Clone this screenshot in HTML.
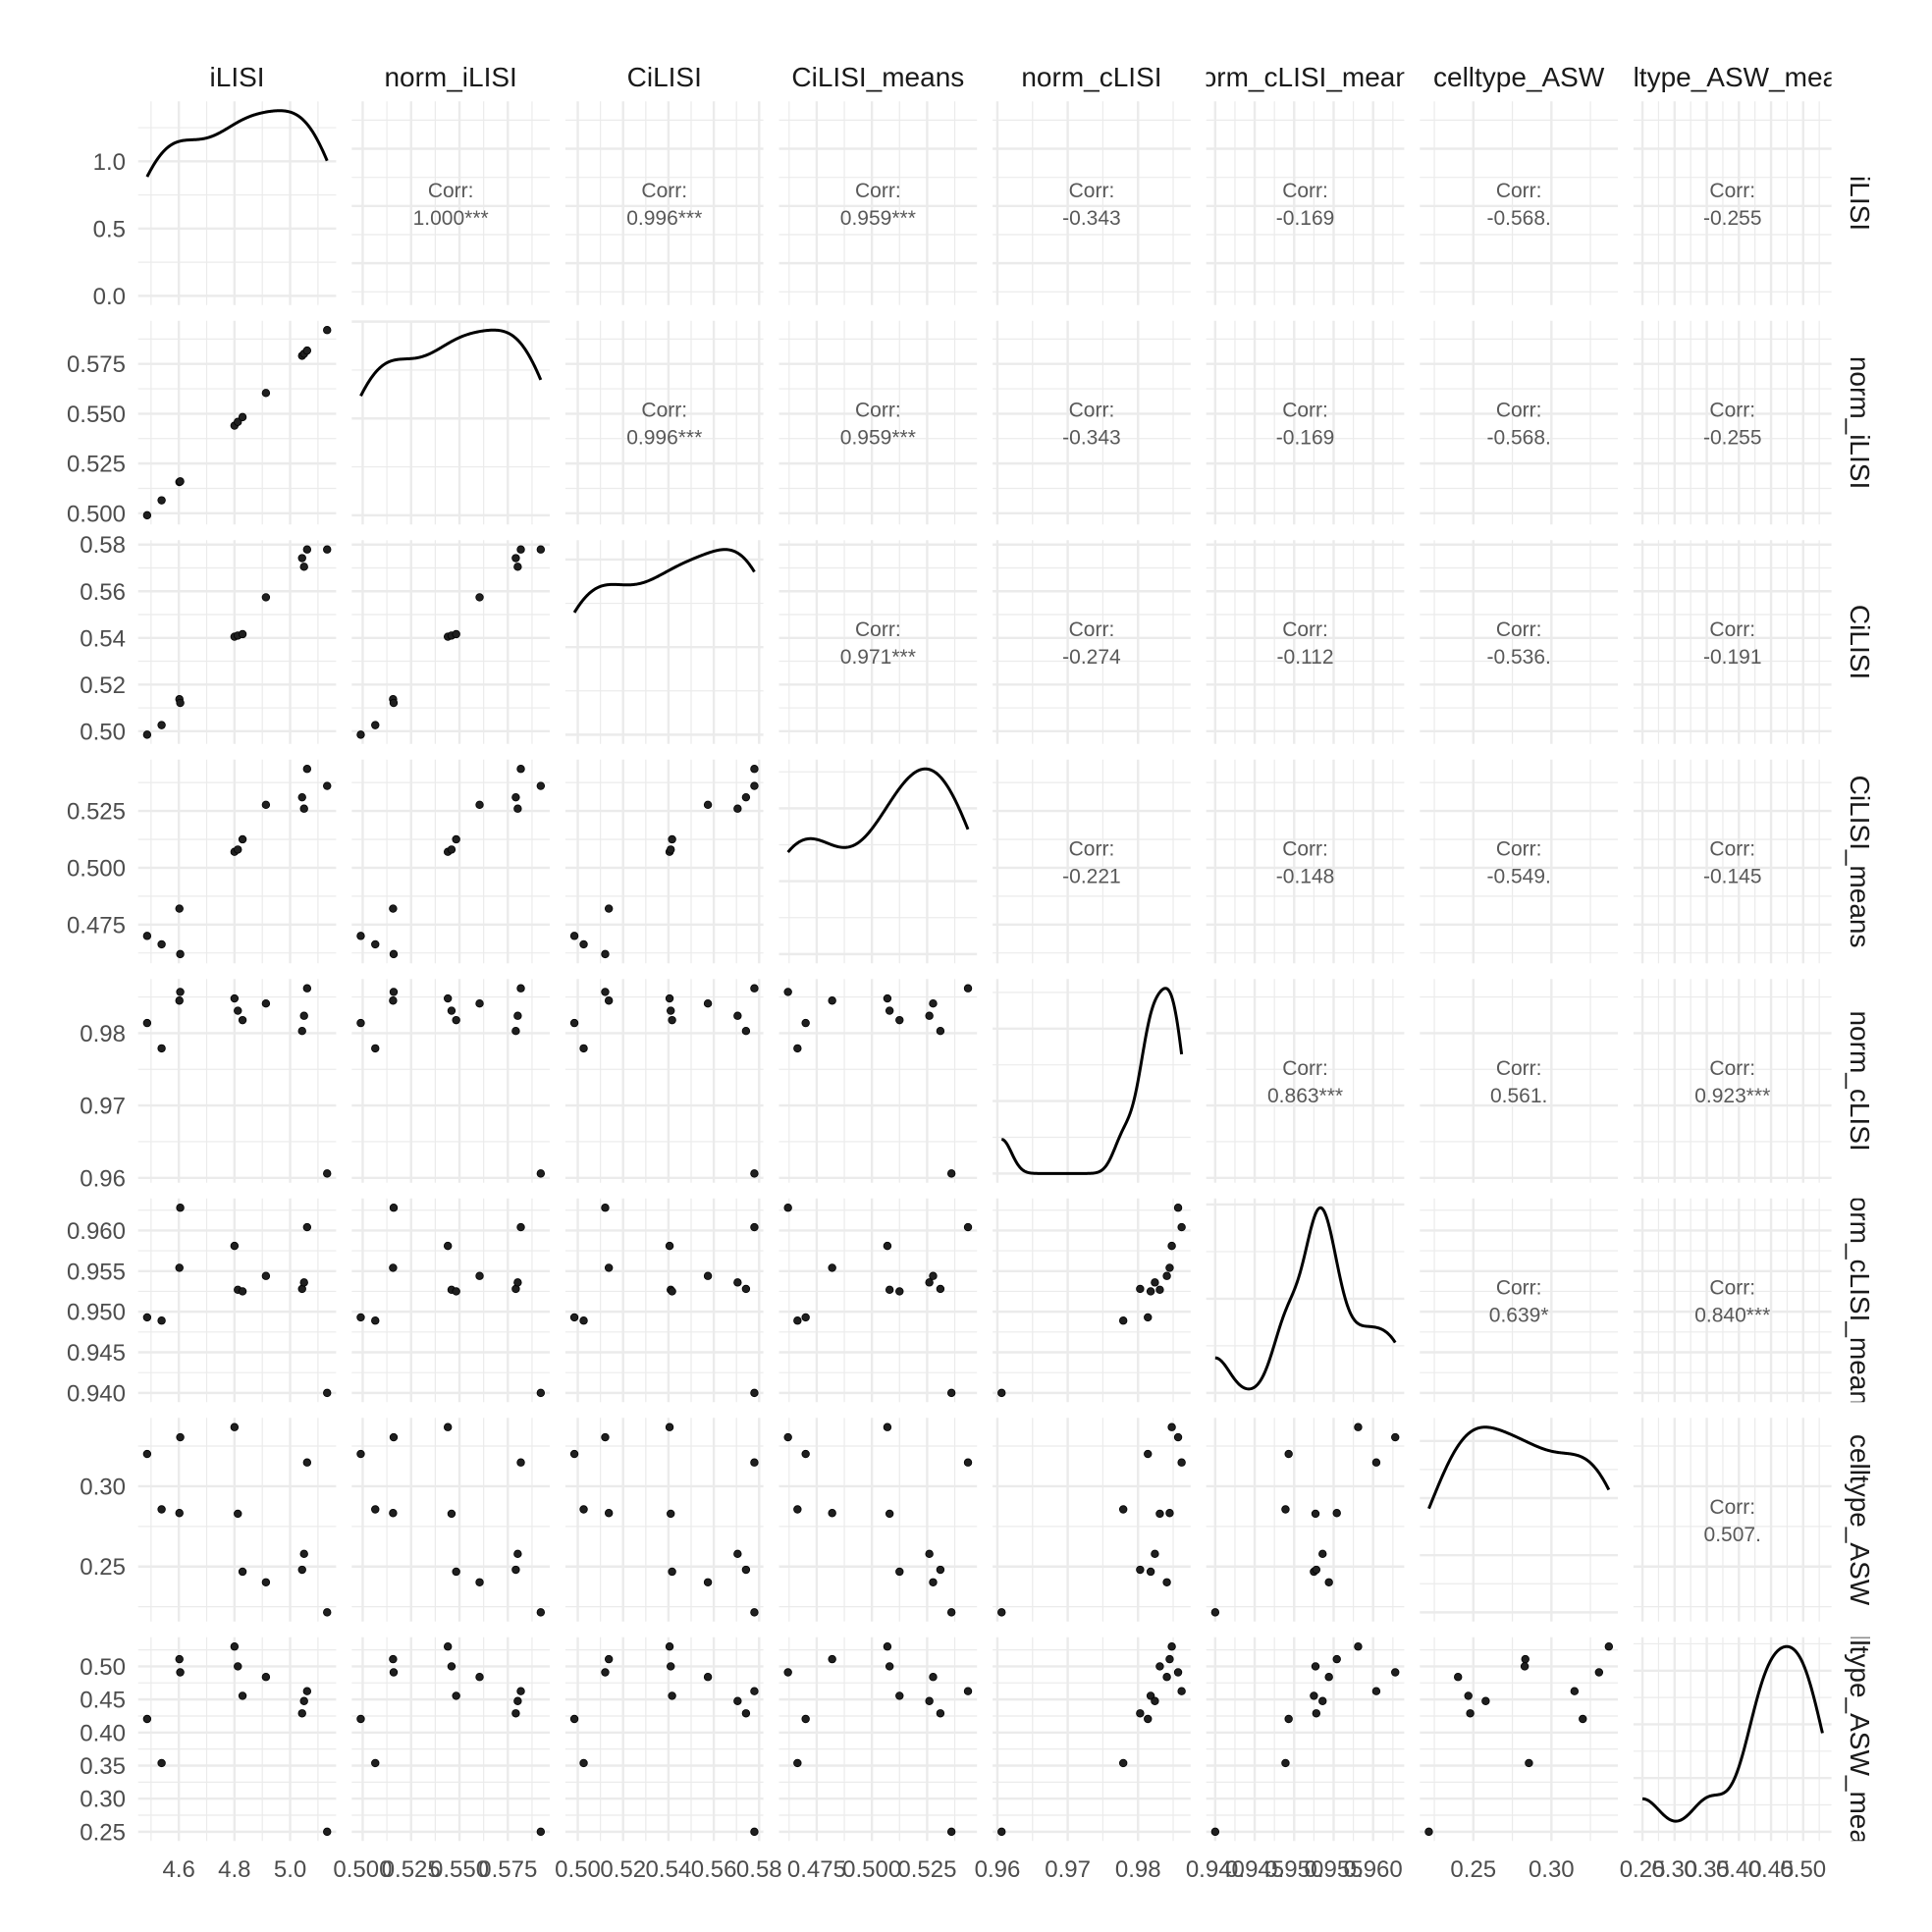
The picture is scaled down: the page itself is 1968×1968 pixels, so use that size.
<!DOCTYPE html>
<html><head><meta charset="utf-8"><style>
html,body{margin:0;padding:0;background:#fff;}
svg{display:block;}
</style></head><body>
<svg id="chart" width="1968" height="1968" viewBox="0 0 1968 1968" xmlns="http://www.w3.org/2000/svg" font-family="'Liberation Sans', sans-serif"></svg>
<script>
// ---- data (12 observations) ----
const varNames = ["iLISI","norm_iLISI","CiLISI","CiLISI_means","norm_cLISI","norm_cLISI_means","celltype_ASW","celltype_ASW_means"];
const iLISI = [4.486,4.538,4.602,4.605,4.800,4.812,4.829,4.913,5.043,5.050,5.061,5.133];
const normILISI = [0.499,0.5065,0.5157,0.516,0.544,0.5459,0.5483,0.5604,0.5791,0.5801,0.5817,0.592];
const CiLISI = [0.4985,0.5026,0.5137,0.5121,0.5405,0.541,0.5416,0.5574,0.5742,0.5705,0.5779,0.5779];
const CiLISImeans = [0.470,0.4663,0.482,0.462,0.507,0.508,0.5125,0.5277,0.531,0.526,0.5435,0.536];
const normCLISI = [0.9814,0.9779,0.9845,0.9857,0.9848,0.9831,0.9818,0.9841,0.9803,0.9824,0.9862,0.9606];
const normCLISImeans = [0.9493,0.9489,0.9554,0.9628,0.9581,0.9527,0.9525,0.9544,0.9528,0.9536,0.9604,0.940];
const celltypeASW = [0.3201,0.2856,0.2833,0.3305,0.3368,0.2829,0.2468,0.2402,0.248,0.2579,0.3148,0.2215];
const celltypeASWmeans = [0.4205,0.3538,0.5109,0.491,0.530,0.500,0.4555,0.484,0.429,0.4476,0.4625,0.25];
const allVars = [iLISI,normILISI,CiLISI,CiLISImeans,normCLISI,normCLISImeans,celltypeASW,celltypeASWmeans];

// tick labels per variable
const ticksILISI = ["4.6","4.8","5.0"];
const ticksNormILISI = ["0.500","0.525","0.550","0.575"];
const ticksCiLISI = ["0.50","0.52","0.54","0.56","0.58"];
const ticksCiLISImeans = ["0.475","0.500","0.525"];
const ticksNormCLISI = ["0.96","0.97","0.98"];
const ticksNormCLISImeans = ["0.940","0.945","0.950","0.955","0.960"];
const ticksASW = ["0.25","0.30"];
const ticksASWmeans = ["0.25","0.30","0.35","0.40","0.45","0.50"];
const allTicks = [ticksILISI,ticksNormILISI,ticksCiLISI,ticksCiLISImeans,ticksNormCLISI,ticksNormCLISImeans,ticksASW,ticksASWmeans];
const densityTicks = ["0.0","0.5","1.0"];

// correlation labels (upper triangle, row by row)
const corrRow1 = ["1.000***","0.996***","0.959***","-0.343","-0.169","-0.568.","-0.255"];
const corrRow2 = ["0.996***","0.959***","-0.343","-0.169","-0.568.","-0.255"];
const corrRow3 = ["0.971***","-0.274","-0.112","-0.536.","-0.191"];
const corrRow4 = ["-0.221","-0.148","-0.549.","-0.145"];
const corrRow5 = ["0.863***","0.561.","0.923***"];
const corrRow6 = ["0.639*","0.840***"];
const corrRow7 = ["0.507."];
const corrRows = [corrRow1,corrRow2,corrRow3,corrRow4,corrRow5,corrRow6,corrRow7];

// ---- layout ----
const NS = "http://www.w3.org/2000/svg";
const svg = document.getElementById('chart');
const L0 = 140.7, PX = 217.6, PW = 201.7;
const T0 = 103.3, PY = 223.5, PH = 207.5;
const N = 8;
function mk(tag, attrs, parent){ const e=document.createElementNS(NS,tag); for(const k in attrs) e.setAttribute(k,attrs[k]); (parent||svg).appendChild(e); return e; }

function limits(arr){ const mn=Math.min(...arr), mx=Math.max(...arr), r=mx-mn; return [mn-0.05*r, mx+0.05*r]; }
const lims = allVars.map(limits);
function xScale(c, v){ const [lo,hi]=lims[c]; return L0+c*PX+(v-lo)/(hi-lo)*PW; }
function yScale(r, v){ const [lo,hi]=lims[r]; return T0+r*PY+PH-(v-lo)/(hi-lo)*PH; }

function minorBreaks(major, lo, hi){
  const out=[]; if(major.length<2) return out;
  const step=major[1]-major[0];
  const ext=[major[0]-step, ...major, major[major.length-1]+step];
  for(let i=0;i<ext.length-1;i++){ const m=(ext[i]+ext[i+1])/2; if(m>=lo&&m<=hi) out.push(m); }
  return out;
}
function niceTicks(lo, hi){
  const span=hi-lo, raw=span/4, p=Math.pow(10,Math.floor(Math.log10(raw)));
  let step=p; for(const m of [1,2,2.5,5,10]){ if(m*p>=raw){ step=m*p; break; } }
  const out=[]; for(let v=Math.ceil(lo/step)*step; v<=hi+1e-12; v+=step) out.push(+v.toFixed(10));
  return out;
}
// KDE (gaussian, bw.nrd0)
function kde(arr){
  const n=arr.length, mean=arr.reduce((a,b)=>a+b)/n;
  const sd=Math.sqrt(arr.reduce((a,b)=>a+(b-mean)*(b-mean),0)/(n-1));
  const s=[...arr].sort((a,b)=>a-b);
  const q=(p)=>{ const h=(n-1)*p, lo=Math.floor(h); return s[lo]+(h-lo)*(s[Math.min(lo+1,n-1)]-s[lo]); };
  const iqr=q(0.75)-q(0.25);
  let lo=Math.min(sd, iqr/1.34); if(!(lo>0)) lo=sd;
  const bw=0.9*lo*Math.pow(n,-0.2);
  const xs=[], ys=[]; const mn=s[0], mx=s[n-1];
  for(let i=0;i<256;i++){ const x=mn+(mx-mn)*i/255; let d=0; for(const v of arr){ const z=(x-v)/bw; d+=Math.exp(-0.5*z*z); } xs.push(x); ys.push(d/(n*bw*Math.sqrt(2*Math.PI))); }
  return [xs,ys];
}

const defs = mk('defs',{});
for(let r=0;r<N;r++){
  for(let c=0;c<N;c++){
    const px=L0+c*PX, py=T0+r*PY;
    const g=mk('g',{});
    
    
    const xMaj=allTicks[c].map(Number);
    const xMin=minorBreaks(xMaj, lims[c][0], lims[c][1]);
    let yMaj, yMin, dens=null, dLo=0, dHi=1;
    if(r===c){
      dens=kde(allVars[c]);
      const dm=Math.max(...dens[1]); dLo=-0.05*dm; dHi=dm*1.05;
      yMaj=(c===0? densityTicks.map(Number) : niceTicks(0,dHi));
      yMin=minorBreaks(yMaj,dLo,dHi);
    } else { yMaj=allTicks[r].map(Number); yMin=minorBreaks(yMaj, lims[r][0], lims[r][1]); }
    const yf = (r===c) ? (v=>py+PH-(v-dLo)/(dHi-dLo)*PH) : (v=>yScale(r,v));
    for(const v of xMin) mk('line',{x1:xScale(c,v),x2:xScale(c,v),y1:py,y2:py+PH,stroke:'#ebebeb','stroke-width':1.2},g);
    for(const v of yMin){ const y=yf(v); if(y>=py&&y<=py+PH) mk('line',{x1:px,x2:px+PW,y1:y,y2:y,stroke:'#ebebeb','stroke-width':1.2},g); }
    for(const v of xMaj) mk('line',{x1:xScale(c,v),x2:xScale(c,v),y1:py,y2:py+PH,stroke:'#ebebeb','stroke-width':2.4},g);
    for(const v of yMaj){ const y=yf(v); if(y>=py-0.5&&y<=py+PH+0.5) mk('line',{x1:px,x2:px+PW,y1:y,y2:y,stroke:'#ebebeb','stroke-width':2.4},g); }
    if(r===c){
      let d=''; dens[0].forEach((x,i)=>{ d+=(i?'L':'M')+xScale(c,x).toFixed(2)+','+yf(dens[1][i]).toFixed(2); });
      const p=mk('path',{d:d,fill:'none',stroke:'#000','stroke-width':3},g);
      
      
    } else if(r>c){
      allVars[c].forEach((xv,i)=>{
        const pt=mk('circle',{cx:xScale(c,xv),cy:yScale(r,allVars[r][i]),r:3.8,fill:'#1f1f1f',stroke:'#000','stroke-width':0.8},g);
        
        
      });
    } else {
      const lbl=corrRows[r][c-r-1];
      const cx=px+PW/2, cy=py+PH/2;
      const t1=mk('text',{x:cx,y:cy-6,'text-anchor':'middle','font-size':21,fill:'#595959'},g); t1.textContent='Corr:';
      
      
      const t2=mk('text',{x:cx,y:cy+22,'text-anchor':'middle','font-size':21,fill:'#595959'},g); t2.textContent=lbl;
      
      
    }
    if(c===0){
      const labs = (r===0)? densityTicks : allTicks[r];
      labs.forEach(s=>{ const y=yf(Number(s)); const t=mk('text',{x:128,y:y+8.5,'text-anchor':'end','font-size':24,fill:'#4d4d4d'}); t.textContent=s;
        
         });
    }
    if(r===N-1){
      allTicks[c].forEach(s=>{ const t=mk('text',{x:xScale(c,Number(s)),y:1912,'text-anchor':'middle','font-size':24,fill:'#4d4d4d'}); t.textContent=s;
        
         });
    }
  }
}
// strips
for(let i=0;i<N;i++){
  const cp=mk('clipPath',{id:'ct'+i},defs); mk('rect',{x:L0+i*PX,y:50,width:PW,height:50},cp);
  const t=mk('text',{x:L0+i*PX+PW/2,y:88,'text-anchor':'middle','font-size':28,fill:'#1a1a1a','clip-path':'url(#ct'+i+')'});
  t.textContent=varNames[i];
  
  
  const cr=mk('clipPath',{id:'cr'+i},defs); mk('rect',{x:1870,y:T0+i*PY,width:60,height:PH},cr);
  const g=mk('g',{'clip-path':'url(#cr'+i+')'});
  const t2=mk('text',{x:0,y:0,'text-anchor':'middle','font-size':28,fill:'#1a1a1a',transform:'translate(1885,'+(T0+i*PY+PH/2)+') rotate(90)'},g);
  t2.textContent=varNames[i];
  
  
}
</script>
</body></html>
